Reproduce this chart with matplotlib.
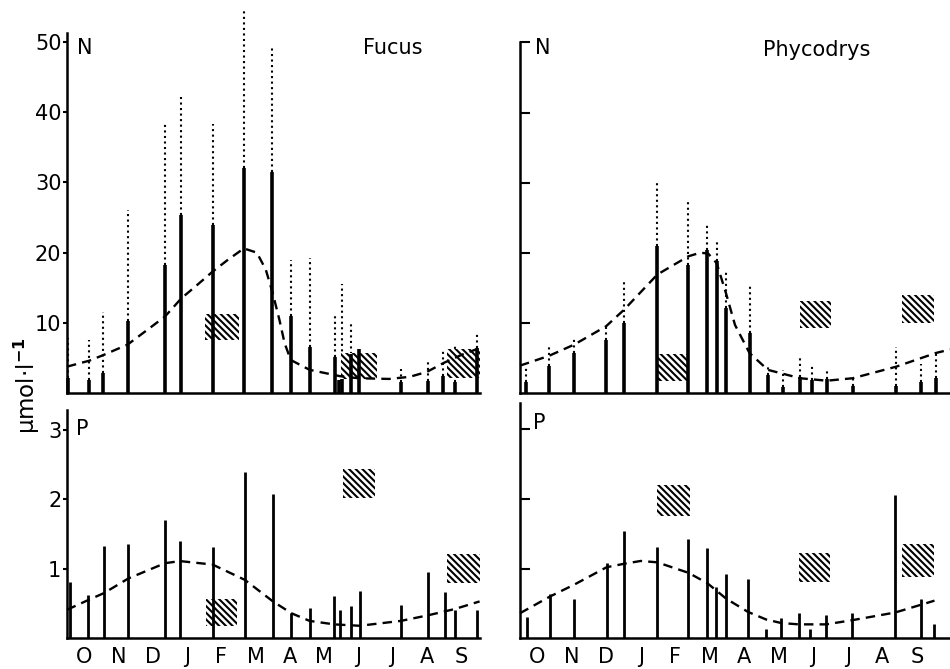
import numpy as np
import matplotlib.pyplot as plt

# mois (axe x en mois depuis le 1er octobre)
mois = ['O', 'N', 'D', 'J', 'F', 'M', 'A', 'M', 'J', 'J', 'A', 'S']

# --- Fucus, N ---
fucus_n_x = [0.04, 0.65, 1.06, 1.77, 2.86, 3.34, 4.25, 5.16, 5.99, 6.53, 7.08,
             7.83, 7.94, 8.03, 8.28, 8.52, 9.74, 10.52, 10.98, 11.31, 11.97]
fucus_n_min = [2.1, 1.9, 2.9, 10.3, 18.3, 25.3, 23.9, 32.0, 31.5, 10.9, 6.6,
               5.1, 1.9, 2.0, 5.5, 6.2, 1.5, 1.7, 2.4, 1.5, 6.4]
fucus_n_max = [7.9, 7.6, 11.6, 26.1, 38.3, 42.3, 38.3, 54.5, 49.1, 19.0, 19.2,
               10.9, np.nan, 15.5, 9.8, np.nan, 3.4, 4.7, 6.1, 6.7, 8.7]
fucus_n_courbe_x = [0, 0.65, 1.06, 1.77, 2.4, 2.86, 3.34, 3.8, 4.25, 4.7, 5.16, 5.54, 5.8,
                    6.0, 6.2, 6.35, 6.53, 7.08, 7.96, 8.5, 9.4, 10.0, 10.5, 11.0, 11.5, 12.04]
fucus_n_courbe = [3.75, 4.6, 5.4, 6.9, 9.2, 10.9, 13.5, 15.4, 17.3, 19.0, 20.6, 20.0, 17.6,
                  14.3, 10.4, 7.1, 4.7, 3.3, 2.4, 2.1, 2.0, 2.3, 3.0, 4.3, 5.4, 6.4]
fucus_n_boites = [(4.02, 5.01, 7.5, 11.3), (8.01, 9.06, 2.0, 5.7), (11.1, 12.04, 2.1, 6.2)]

# --- Fucus, P ---
fucus_p_x = [0.09, 0.62, 1.08, 1.79, 2.86, 3.3, 4.25, 5.19, 6.01, 6.55, 7.08, 7.8,
             7.98, 8.3, 8.54, 9.74, 10.53, 11.02, 11.31, 11.97]
fucus_p = [0.81, 0.62, 1.33, 1.36, 1.70, 1.40, 1.31, 2.39, 2.07, 0.36, 0.44, 0.61,
           0.41, 0.47, 0.68, 0.48, 0.96, 0.66, 0.41, 0.40]
fucus_p_courbe_x = [0, 0.62, 1.08, 1.79, 2.86, 3.3, 4.25, 5.19, 6.01, 6.55, 7.08, 7.8,
                    8.54, 9.74, 10.53, 11.31, 12.04]
fucus_p_courbe = [0.41, 0.55, 0.65, 0.86, 1.08, 1.11, 1.06, 0.84, 0.53, 0.36, 0.25, 0.20,
                  0.18, 0.25, 0.33, 0.42, 0.53]
fucus_p_boites = [(4.05, 4.97, 0.18, 0.57), (8.06, 8.99, 2.02, 2.43), (11.1, 12.04, 0.79, 1.21)]

# --- Phycodrys, N ---
phyco_n_x = [0.16, 0.84, 1.57, 2.49, 3.02, 3.98, 4.88, 5.41, 5.7, 5.97, 6.65, 7.18,
             7.61, 8.12, 8.47, 8.89, 9.64, 10.9, 11.61, 12.05]
phyco_n_min = [1.5, 3.9, 5.7, 7.5, 10.0, 20.9, 18.3, 20.4, 18.8, 12.1, 8.5, 2.6,
               0.9, 2.3, 1.9, 1.95, 1.0, 1.0, 1.6, 2.1]
phyco_n_max = [3.8, 6.9, 8.0, 9.7, 15.9, 30.2, 27.3, 24.0, 21.6, 17.6, 15.2, 4.2,
               3.3, 5.0, 4.2, 3.4, 2.3, 6.6, 4.2, 5.9]
phyco_n_courbe_x = [0, 0.84, 1.57, 2.49, 3.02, 3.98, 4.88, 5.22, 5.45, 5.7, 5.97, 6.23,
                    6.65, 7.18, 8.12, 8.89, 9.64, 10.9, 12.05, 12.46]
phyco_n_courbe = [3.9, 5.3, 6.9, 9.5, 11.9, 16.9, 19.5, 20.0, 19.9, 18.5, 14.2, 9.7,
                  5.7, 3.3, 2.1, 1.75, 2.1, 3.75, 5.7, 6.2]
phyco_n_boites = [(4.01, 4.88, 1.7, 5.5), (8.1, 9.0, 9.2, 13.1), (11.08, 12.0, 10.0, 14.0)]

# --- Phycodrys, P ---
phyco_p_x = [0.19, 0.87, 1.57, 2.51, 3.02, 3.98, 4.88, 5.43, 5.68, 5.97, 6.6, 7.13,
             7.56, 8.07, 8.41, 8.87, 9.63, 10.87, 11.61, 12.01]
phyco_p = [0.31, 0.63, 0.56, 1.08, 1.54, 1.31, 1.43, 1.30, 0.74, 0.92, 0.85, 0.13,
           0.29, 0.37, 0.13, 0.33, 0.37, 2.06, 0.56, 0.20]
phyco_p_courbe_x = [0, 0.87, 1.57, 2.51, 3.02, 3.5, 3.98, 4.88, 5.43, 5.97, 6.6, 7.13,
                    7.56, 8.07, 8.87, 9.63, 10.87, 11.61, 12.01]
phyco_p_courbe = [0.36, 0.6, 0.77, 1.02, 1.07, 1.11, 1.09, 0.94, 0.79, 0.57, 0.38, 0.27,
                  0.22, 0.20, 0.20, 0.26, 0.37, 0.48, 0.54]
phyco_p_boites = [(3.98, 4.93, 1.76, 2.2), (8.07, 8.99, 0.81, 1.23), (11.08, 12.0, 0.88, 1.35)]

plt.rcParams['hatch.linewidth'] = 1.5
plt.rcParams['font.family'] = 'DejaVu Sans'


def preparer_axe(ax, xmax, ymax, gauche, yticks, lettre, xl, yl):
    ax.set_xlim(0, xmax)
    ax.set_ylim(0, ymax)
    for s in ['top', 'right']:
        ax.spines[s].set_visible(False)
    ax.spines['left'].set_linewidth(1.8)
    ax.spines['bottom'].set_linewidth(1.8)
    ax.set_yticks(yticks)
    if gauche:
        ax.tick_params(axis='y', direction='out', length=3, width=1.5, labelsize=15, pad=1)
    else:
        ax.tick_params(axis='y', direction='in', length=7, width=1.5, labelleft=False)
    ax.set_xticks(np.arange(12) + 0.5)
    ax.tick_params(axis='x', length=0, labelsize=15, pad=6)
    ax.text(xl, ymax * yl, lettre, fontsize=15, va='top', ha='left')


def boites(ax, liste):
    for (x0, x1, y0, y1) in liste:
        ax.add_patch(plt.Rectangle((x0, y0), x1 - x0, y1 - y0, facecolor='white',
                                   edgecolor='black', hatch='\\\\\\\\\\', linewidth=0,
                                   zorder=3, clip_on=False))


def courbe(ax, x, y):
    ax.plot(x, y, color='black', linewidth=1.7, dashes=(4, 2.6), zorder=4, clip_on=False)


fig = plt.figure(figsize=(9.5, 6.69), dpi=100)

ax1 = fig.add_axes([0.0705, 0.4126, 0.4347, 0.538])
ax2 = fig.add_axes([0.5474, 0.4126, 0.4526, 0.525])
ax3 = fig.add_axes([0.0705, 0.0459, 0.4347, 0.341])
ax4 = fig.add_axes([0.5474, 0.0459, 0.4526, 0.351])

# panneaux N
for ax, x, vmin, vmax, cx, cy, bx, xmax, ymax, gauche, xl, yl in [
        (ax1, fucus_n_x, fucus_n_min, fucus_n_max, fucus_n_courbe_x, fucus_n_courbe, fucus_n_boites, 12.05, 51.3, True, 0.3, 0.985),
        (ax2, phyco_n_x, phyco_n_min, phyco_n_max, phyco_n_courbe_x, phyco_n_courbe, phyco_n_boites, 12.46, 50.1, False, 0.42, 1.01)]:
    preparer_axe(ax, xmax, ymax, gauche, [10, 20, 30, 40, 50], 'N', xl, yl)
    ax.set_xticklabels([])
    x = np.array(x)
    vmin = np.array(vmin)
    vmax = np.array(vmax)
    ok = ~np.isnan(vmax)
    ax.vlines(x[ok], vmin[ok], vmax[ok], colors='black', linestyles=':', linewidth=1.5,
              zorder=2, clip_on=False)
    ax.vlines(x, 0, vmin, colors='black', linewidth=2.6, zorder=5, clip_on=False)
    boites(ax, bx)
    courbe(ax, cx, cy)

# panneaux P
for ax, x, v, cx, cy, bx, xmax, ymax, gauche, xl, yl in [
        (ax3, fucus_p_x, fucus_p, fucus_p_courbe_x, fucus_p_courbe, fucus_p_boites, 12.05, 3.28, True, 0.25, 0.96),
        (ax4, phyco_p_x, phyco_p, phyco_p_courbe_x, phyco_p_courbe, phyco_p_boites, 12.46, 3.37, False, 0.38, 0.96)]:
    preparer_axe(ax, xmax, ymax, gauche, [1, 2, 3], 'P', xl, yl)
    ax.set_xticklabels(mois)
    ax.vlines(x, 0, v, colors='black', linewidth=2.0, zorder=5, clip_on=False)
    boites(ax, bx)
    courbe(ax, cx, cy)

ax1.set_yticklabels(['10', '20', '30', '40', '50'])
ax3.set_yticklabels(['1', '2', '3'])

fig.text(0.413, 0.928, 'Fucus', fontsize=15, ha='center', va='center')
fig.text(0.86, 0.925, 'Phycodrys', fontsize=15, ha='center', va='center')
fig.text(0.028, 0.423, 'µmol·l$^{\\mathbf{-1}}$', fontsize=16.5, rotation=90,
         ha='center', va='center')

fig.savefig('out.png', dpi=100)
